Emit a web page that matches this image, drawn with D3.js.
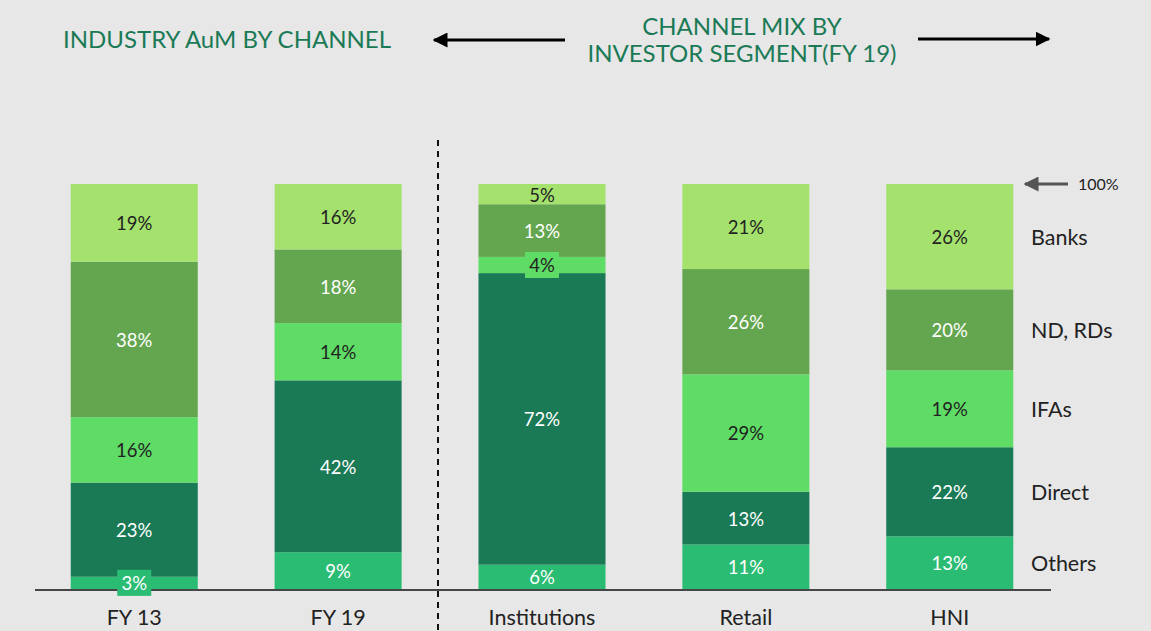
<!DOCTYPE html>
<html>
<head>
<meta charset="utf-8">
<script src="https://cdn.jsdelivr.net/npm/d3@7"></script>
<style>
  body { margin: 0; background: #e7e7e7; }
  svg { display: block; font-family: Lato, "Open Sans", sans-serif; }
</style>
</head>
<body>
<div id="chart"></div>
<script>
// data, values in % (bottom to top)
var categories = ["FY 13", "FY 19", "Institutions", "Retail", "HNI"]
var channels = ["Others", "Direct", "IFAs", "ND, RDs", "Banks"]
var others = [3, 9, 6, 11, 13]
var direct = [23, 42, 72, 13, 22]
var ifas = [16, 14, 4, 29, 19]
var ndRds = [38, 18, 13, 26, 20]
var banks = [19, 16, 5, 21, 26]

var colors = ["#2bbc73", "#1b7a56", "#5edc65", "#64a64f", "#a4e26d"]
var textColors = ["#ffffff", "#ffffff", "#222222", "#ffffff", "#222222"]

var series = [others, direct, ifas, ndRds, banks]
var rows = categories.map((c, i) => {
  var r = { cat: c }
  channels.forEach((ch, j) => r[ch] = series[j][i])
  return r
})

var dimensions = { width: 1151, height: 631 }

var svg = d3.select("#chart")
  .append("svg")
  .attr("width", dimensions.width)
  .attr("height", dimensions.height)

var xScale = d3.scaleBand()
  .domain(categories)
  .range([32, 1052])
  .paddingInner(0.377)
  .paddingOuter(0.19)

var yScale = d3.scaleLinear()
  .domain([0, 1])
  .range([589, 184])

// normalise each column to 100%
var stacked = d3.stack()
  .keys(channels)
  .offset(d3.stackOffsetExpand)(rows)

var segments = stacked.flatMap(layer =>
  layer.map(p => ({ p: p, key: layer.key, idx: layer.index })))

svg.append("g")
  .selectAll("rect")
  .data(segments)
  .join("rect")
  .attr("x", d => xScale(d.p.data.cat))
  .attr("width", xScale.bandwidth())
  .attr("y", d => yScale(d.p[1]))
  .attr("height", d => yScale(d.p[0]) - yScale(d.p[1]))
  .attr("fill", d => colors[d.idx])

// baseline
svg.append("line")
  .attr("x1", 35).attr("x2", 1051)
  .attr("y1", 590).attr("y2", 590)
  .attr("stroke", "#111").attr("stroke-width", 1.5)

// value labels (drawn after all bars so the small boxes sit on top)
var labels = svg.append("g")
  .selectAll("g")
  .data(segments)
  .join("g")
  .attr("transform", d => `translate(${xScale(d.p.data.cat) + xScale.bandwidth() / 2},${(yScale(d.p[0]) + yScale(d.p[1])) / 2})`)

labels.filter(d => d.p.data[d.key] < 5)
  .append("rect")
  .attr("x", -17).attr("y", -13)
  .attr("width", 34).attr("height", 26)
  .attr("fill", d => colors[d.idx])

labels.append("text")
  .attr("text-anchor", "middle")
  .attr("dy", "0.4em")
  .attr("font-size", 18.5)
  .attr("fill", d => textColors[d.idx])
  .text(d => d.p.data[d.key] + "%")

// category labels
svg.selectAll(".cat")
  .data(categories)
  .join("text")
  .attr("class", "cat")
  .attr("x", d => xScale(d) + xScale.bandwidth() / 2)
  .attr("y", 625)
  .attr("text-anchor", "middle")
  .attr("font-size", 21.5)
  .attr("fill", "#222")
  .text(d => d)

// legend aligned with HNI segments
var last = categories[categories.length - 1]
svg.selectAll(".legend")
  .data(stacked)
  .join("text")
  .attr("class", "legend")
  .attr("x", 1031)
  .attr("y", d => {
    var p = d.find(v => v.data.cat == last)
    return (yScale(p[0]) + yScale(p[1])) / 2
  })
  .attr("dy", "0.38em")
  .attr("font-size", 21.5)
  .attr("fill", "#222")
  .text(d => d.key)

// 100% marker
var defs = svg.append("defs")
defs.append("marker")
  .attr("id", "grayHead")
  .attr("viewBox", "0 0 10 10")
  .attr("refX", 9).attr("refY", 5)
  .attr("markerWidth", 5).attr("markerHeight", 5)
  .attr("orient", "auto")
  .append("path").attr("d", "M0,0L10,5L0,10Z").attr("fill", "#555")

defs.append("marker")
  .attr("id", "blackHead")
  .attr("viewBox", "0 0 10 10")
  .attr("refX", 9).attr("refY", 5)
  .attr("markerWidth", 5).attr("markerHeight", 5)
  .attr("orient", "auto")
  .append("path").attr("d", "M0,0L10,5L0,10Z").attr("fill", "#000")

svg.append("line")
  .attr("x1", 1068).attr("x2", 1025)
  .attr("y1", yScale(1)).attr("y2", yScale(1))
  .attr("stroke", "#555").attr("stroke-width", 3)
  .attr("marker-end", "url(#grayHead)")

svg.append("text")
  .attr("x", 1078).attr("y", yScale(1))
  .attr("dy", "0.36em")
  .attr("font-size", 16)
  .attr("fill", "#222")
  .text("100%")

// divider
svg.append("line")
  .attr("x1", 438).attr("x2", 438)
  .attr("y1", 140).attr("y2", 631)
  .attr("stroke", "#111").attr("stroke-width", 2)
  .attr("stroke-dasharray", "6 5")

// titles
var titleColor = "#1b7a56"
svg.append("text")
  .attr("x", 63).attr("y", 48)
  .attr("font-size", 24)
  .attr("fill", titleColor)
  .text("INDUSTRY AuM BY CHANNEL")

svg.append("text")
  .attr("x", 742).attr("y", 35)
  .attr("text-anchor", "middle")
  .attr("font-size", 24)
  .attr("fill", titleColor)
  .text("CHANNEL MIX BY")

svg.append("text")
  .attr("x", 742).attr("y", 62)
  .attr("text-anchor", "middle")
  .attr("font-size", 24)
  .attr("fill", titleColor)
  .text("INVESTOR SEGMENT(FY 19)")

svg.append("line")
  .attr("x1", 565).attr("x2", 434)
  .attr("y1", 40).attr("y2", 40)
  .attr("stroke", "#000").attr("stroke-width", 3)
  .attr("marker-end", "url(#blackHead)")

svg.append("line")
  .attr("x1", 918).attr("x2", 1049)
  .attr("y1", 39).attr("y2", 39)
  .attr("stroke", "#000").attr("stroke-width", 3)
  .attr("marker-end", "url(#blackHead)")
</script>
</body>
</html>
